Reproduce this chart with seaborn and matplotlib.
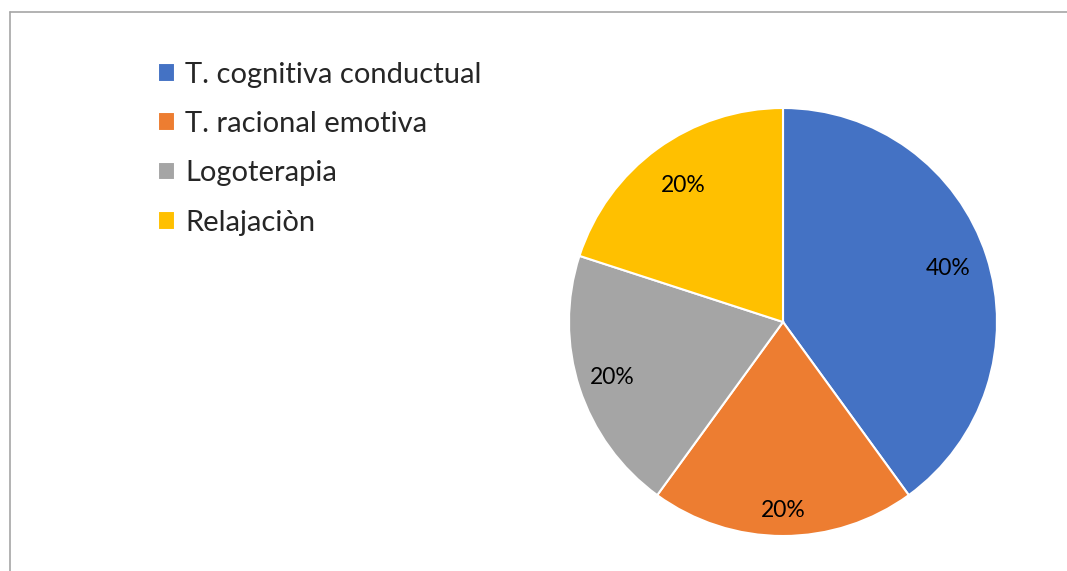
import matplotlib
matplotlib.use("Agg")
import matplotlib.pyplot as plt
import seaborn as sns
import numpy as np
from matplotlib.lines import Line2D

categories = ["T. cognitiva conductual", "T. racional emotiva", "Logoterapia", "Relajaciòn"]
values = [40, 20, 20, 20]
colors = ["#4472C4", "#ED7D31", "#A5A5A5", "#FFC000"]

sns.set_theme(style="white")
plt.rcParams['font.family'] = ['Lato', 'DejaVu Sans']

fig = plt.figure(figsize=(10.67, 5.71), dpi=100)
fig.patch.set_facecolor("white")

ax = fig.add_axes([569/1067, 35/571, 428/1067, 428/571])
palette = sns.color_palette(colors)
wedges, texts, autotexts = ax.pie(
    values, colors=palette, startangle=90, counterclock=False,
    autopct=lambda p: f"{p:.0f}%", pctdistance=0.83, radius=1,
    wedgeprops=dict(edgecolor="white", linewidth=1.5),
    textprops=dict(fontsize=16.5, color="#000000"))
# label distances from centre (Excel best-fit placement)
label_r = [0.81, 0.88, 0.84, 0.79]
for w, t, r in zip(wedges, autotexts, label_r):
    ang = np.deg2rad((w.theta1 + w.theta2) / 2)
    t.set_position((r * np.cos(ang), r * np.sin(ang)))
ax.set_xlim(-1, 1)
ax.set_ylim(-1, 1)
ax.set_aspect("equal")
ax.axis("off")

fig.legend(wedges, categories, loc="upper left",
           bbox_to_anchor=(143/1067, 1 - 47/571), frameon=False,
           fontsize=21, handlelength=0.6, handleheight=0.6,
           handletextpad=0.35, labelspacing=0.8, borderpad=0)

fig.add_artist(Line2D([10/1067, 1], [1 - 12/571, 1 - 12/571], transform=fig.transFigure,
                      color="#A6A6A6", linewidth=1.2))
fig.add_artist(Line2D([10/1067, 10/1067], [0, 1 - 12/571], transform=fig.transFigure,
                      color="#A6A6A6", linewidth=1.2))

fig.savefig("out.png", dpi=100, facecolor="white")
